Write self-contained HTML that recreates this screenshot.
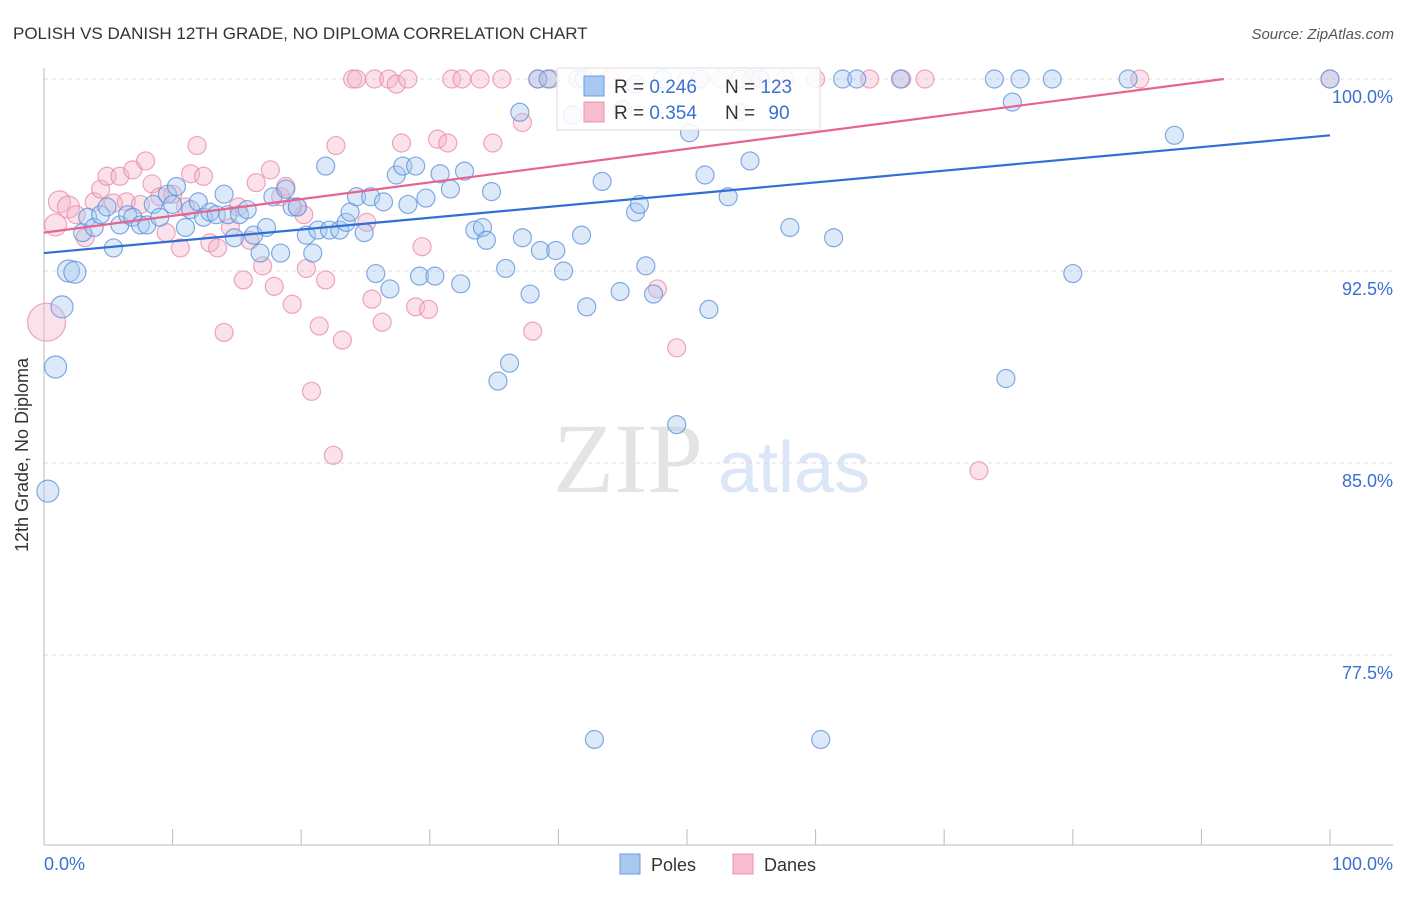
<!DOCTYPE html>
<html><head><meta charset="utf-8"><style>
body{margin:0;background:#fff;font-family:"Liberation Sans",sans-serif;}
</style></head><body>
<svg width="1406" height="892" xmlns="http://www.w3.org/2000/svg" style="font-family:'Liberation Sans',sans-serif">
<text x="13" y="39" font-size="17" fill="#333">POLISH VS DANISH 12TH GRADE, NO DIPLOMA CORRELATION CHART</text>
<text x="1394" y="39" font-size="15" fill="#555" text-anchor="end" font-style="italic">Source: ZipAtlas.com</text>
<g>
<text x="553" y="492" font-size="100" fill="#e4e4e4" font-family="Liberation Serif">ZIP</text>
<text x="718" y="492" font-size="72" fill="#dbe6f6">atlas</text>
</g>
<g id="grid"></g>
<g id="axes"></g>
<g id="pts"></g>
<g id="trend"></g>
<text x="28" y="455" font-size="18" fill="#333" text-anchor="middle" transform="rotate(-90 28 455)">12th Grade, No Diploma</text>
<g>
<rect x="557" y="68" width="263" height="62" fill="#fff" fill-opacity="0.85" stroke="#ddd"/>
<rect x="584" y="76" width="20" height="20" fill="#a8c8f0" stroke="#6b9be0"/>
<text x="614" y="93" font-size="19" fill="#333">R = <tspan fill="#3a70d0">0.246</tspan></text>
<text x="725" y="93" font-size="19" fill="#333">N = <tspan fill="#3a70d0">123</tspan></text>
<rect x="584" y="102" width="20" height="20" fill="#f7bccd" stroke="#e890ab"/>
<text x="614" y="119" font-size="19" fill="#333">R = <tspan fill="#3a70d0">0.354</tspan></text>
<text x="725" y="119" font-size="19" fill="#333">N = <tspan fill="#3a70d0" dx="8">90</tspan></text>
</g>
<g>
<rect x="620" y="854" width="20" height="20" fill="#a8c8f0" stroke="#6b9be0"/>
<text x="651" y="871" font-size="18" fill="#333">Poles</text>
<rect x="733" y="854" width="20" height="20" fill="#f7bccd" stroke="#e890ab"/>
<text x="764" y="871" font-size="18" fill="#333">Danes</text>
</g>
</svg>
<script>
const yTicks=[100,92.5,85,77.5];
const yTickLabels=["100.0%","92.5%","85.0%","77.5%"];
const xTickLabels=["0.0%","100.0%"];
const polesX=[0.3,0.9,1.4,1.9,2.4,3.0,3.4,3.9,4.4,4.9,5.4,5.9,6.5,6.9,7.5,8.0,8.5,9.0,9.6,10.0,10.3,11.0,11.4,12.0,12.4,12.9,13.4,14.0,14.3,14.8,15.2,15.8,16.3,16.8,17.3,17.8,18.4,18.8,19.3,19.7,20.4,20.9,21.3,21.9,22.2,23.0,23.5,23.8,24.3,24.9,25.4,25.8,26.4,26.9,27.4,27.9,28.3,28.9,29.2,29.7,30.4,30.8,31.6,32.4,32.7,33.5,34.1,34.4,34.8,35.3,35.9,36.2,37.0,37.2,37.8,38.4,38.6,39.2,39.8,40.4,41.1,41.5,41.8,42.2,42.8,43.4,44.8,46.0,46.3,46.8,47.4,48.1,49.2,50.2,51.0,51.4,51.7,53.2,54.1,54.9,55.7,58.0,60.4,61.4,62.1,63.2,66.6,73.9,74.8,75.3,75.9,78.4,80.0,84.3,87.9,100,42.0,46.0,45.0];
const polesY=[83.9,88.75,91.1,92.5,92.45,94.0,94.6,94.2,94.7,95.0,93.4,94.3,94.7,94.6,94.3,94.3,95.1,94.6,95.5,95.1,95.8,94.2,94.9,95.2,94.6,94.8,94.7,95.5,94.7,93.8,94.7,94.9,93.9,93.2,94.2,95.4,93.2,95.7,95.0,95.0,93.9,93.2,94.1,96.6,94.1,94.1,94.4,94.8,95.4,94.0,95.4,92.4,95.2,91.8,96.25,96.6,95.1,96.6,92.3,95.35,92.3,96.3,95.7,92.0,96.4,94.1,94.2,93.7,95.6,88.2,92.6,88.9,98.7,93.8,91.6,100,93.3,100,93.3,92.5,98.6,100,93.9,91.1,74.2,96.0,91.7,94.8,95.1,92.7,91.6,100,86.5,97.9,100,96.25,91.0,95.4,100,96.8,100,94.2,74.2,93.8,100,100,100,100,88.3,99.1,100,100,92.4,100,97.8,100,100,99.8,98.8];
const danesX=[0.2,0.9,1.2,1.9,2.5,3.2,3.9,4.4,4.9,5.4,5.9,6.4,6.9,7.5,7.9,8.4,9.0,9.5,10.0,10.6,11.0,11.4,11.9,12.4,12.9,13.5,14.0,14.5,15.1,15.5,16.0,16.5,17.0,17.6,17.9,18.4,18.8,19.3,19.7,20.2,20.4,20.8,21.4,21.9,22.5,22.7,23.2,24.0,24.3,25.1,25.5,25.7,26.3,26.8,27.4,27.8,28.3,28.9,29.4,29.9,30.6,31.4,31.7,32.5,33.9,34.9,35.6,37.2,38.0,38.4,39.4,47.7,49.2,52.6,54.0,57.6,64.2,66.7,68.5,72.7,85.2,100,44.0,50.0,55.0,60.0];
const danesY=[90.5,94.3,95.2,95.0,94.7,93.8,95.2,95.7,96.2,95.15,96.2,95.2,96.45,95.1,96.8,95.9,95.4,94.0,95.5,93.4,95.0,96.3,97.4,96.2,93.6,93.4,90.1,94.2,95.0,92.15,93.7,95.95,92.7,96.45,91.9,95.4,95.8,91.2,95.0,94.7,92.6,87.8,90.35,92.15,85.3,97.4,89.8,100,100,94.4,91.4,100,90.5,100,99.8,97.5,100,91.1,93.45,91.0,97.65,97.5,100,100,100,97.5,100,98.3,90.15,100,100,91.8,89.5,100,98.7,100,100,100,100,84.7,100,100,100,100,100,100];
const polesTrend=[93.2,97.8];
const danesTrend=[94.0,100.54];
const X0=44,X1=1330,Y100=79,PXPER=192/7.5;
const sx=v=>X0+(X1-X0)*v/100;
const sy=v=>Y100+(100-v)*PXPER;
const NS="http://www.w3.org/2000/svg";
function mk(p,t,a){const e=document.createElementNS(NS,t);for(const k in a)e.setAttribute(k,a[k]);p.appendChild(e);return e;}
const grid=document.getElementById('grid'),axes=document.getElementById('axes'),pts=document.getElementById('pts'),trend=document.getElementById('trend');
yTicks.forEach((v,i)=>{
 const l=mk(grid,'line',{x1:X0,x2:1393,y1:sy(v),y2:sy(v),stroke:'#ddd','stroke-dasharray':'4,4'});
 
 
 const t=mk(axes,'text',{x:1393,y:sy(v)+24,'font-size':18,fill:'#3a70d0','text-anchor':'end'});
 t.textContent=yTickLabels[i];
 
 
});
const ya=mk(axes,'line',{x1:X0,x2:X0,y1:68,y2:845,stroke:'#bbb'});


const xa=mk(axes,'line',{x1:X0,x2:1393,y1:845,y2:845,stroke:'#bbb'});


for(let i=0;i<=10;i++){
 const tk=mk(axes,'line',{x1:sx(i*10),x2:sx(i*10),y1:829,y2:845,stroke:'#bbb'});
 
 
}
[[0,'start',44],[100,'end',1393]].forEach((d,i)=>{
 const t=mk(axes,'text',{x:d[2],y:870,'font-size':18,fill:'#3a70d0','text-anchor':d[1]});
 t.textContent=xTickLabels[i];
 
 
});
function draw(xs,ys,fill,stroke,name){
 xs.forEach((x,i)=>{
  const big=(x<1.5&&ys[i]<91.5&&name==='dane-point')?19:(x<2.5?11:9);
  const c=mk(pts,'circle',{cx:sx(x),cy:sy(ys[i]),r:big,fill:fill,'fill-opacity':0.4,stroke:stroke,'stroke-opacity':0.75,'stroke-width':1.2});
  
  
 });
}
draw(danesX,danesY,'#f5b3c8','#e88aa8','dane-point');
draw(polesX,polesY,'#a8c8f0','#5b8fd8','pole-point');
const bl=mk(trend,'line',{x1:sx(0),y1:sy(polesTrend[0]),x2:sx(100),y2:sy(polesTrend[1]),stroke:'#2f6fd6','stroke-width':2.2});


const xEnd=Math.min(100,(100-danesTrend[0])/(danesTrend[1]-danesTrend[0])*100);
const pl=mk(trend,'line',{x1:sx(0),y1:sy(danesTrend[0]),x2:sx(xEnd),y2:sy(danesTrend[0]+(danesTrend[1]-danesTrend[0])*xEnd/100),stroke:'#e8648f','stroke-width':2.2});


</script>
</body></html>
